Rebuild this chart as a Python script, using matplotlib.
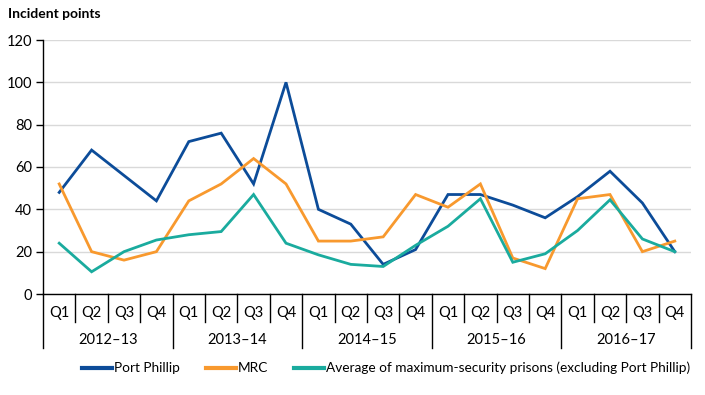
import matplotlib
matplotlib.use("Agg")
import matplotlib.pyplot as plt
import matplotlib.transforms as mtransforms

plt.rcParams['font.family'] = ['Lato', 'DejaVu Sans']

years = ["2012–13", "2013–14", "2014–15", "2015–16", "2016–17"]
quarters = ["Q1", "Q2", "Q3", "Q4"]

port_phillip = [48, 68, 56, 44, 72, 76, 52, 100, 40, 33, 14, 21, 47, 47, 42, 36, 46, 58, 43, 20]
mrc = [52, 20, 16, 20, 44, 52, 64, 52, 25, 25, 27, 47, 41, 52, 17, 12, 45, 47, 20, 25]
average = [24, 10.5, 20, 25.5, 28, 29.5, 47, 24, 18.5, 14, 13, 23, 32, 45, 15, 19, 30, 44.5, 26, 20]

series_names = ["Port Phillip", "MRC", "Average of maximum-security prisons (excluding Port Phillip)"]
colors = ["#0C4C99", "#F8992E", "#1AAB9E"]

W, H = 705, 395
fig = plt.figure(figsize=(W / 100, H / 100), dpi=100)
left, right, top, bottom = 43, 691, 40, 294
ax = fig.add_axes([left / W, 1 - bottom / H, (right - left) / W, (bottom - top) / H])

n = len(port_phillip)
x = list(range(n))
for vals, name, c in zip([port_phillip, mrc, average], series_names, colors):
    ax.plot(x, vals, color=c, lw=2.0, label=name, solid_joinstyle='miter')

ax.set_xlim(-0.5, n - 0.5)
ax.set_ylim(0, 120)
ax.set_yticks(range(0, 121, 20))
ax.yaxis.grid(True, color="#D9D9D9", lw=1.0)
ax.set_axisbelow(True)
for s in ["top", "right"]:
    ax.spines[s].set_visible(False)
ax.spines["left"].set_color("black")
ax.spines["bottom"].set_color("black")
ax.spines["left"].set_linewidth(1.0)
ax.spines["bottom"].set_linewidth(1.0)
ax.tick_params(axis="y", length=5, width=1.0, labelsize=10.5, pad=3, colors="black")
ax.set_xticks([])

ah = bottom - top
trans = mtransforms.blended_transform_factory(ax.transData, ax.transAxes)
for i in range(n):
    ax.text(i, -19 / ah, quarters[i % 4], transform=trans, ha="center", va="center", fontsize=10.5)
for b in range(n + 1):
    depth = 54 if b % 4 == 0 else 28
    ax.plot([b - 0.5, b - 0.5], [0, -depth / ah], transform=trans, color="black", lw=1.0, clip_on=False)
for k, yr in enumerate(years):
    ax.text(4 * k + 1.5, -46 / ah, yr, transform=trans, ha="center", va="center", fontsize=10.5)

fig.text(8 / W, 1 - 14 / H, "Incident points", fontsize=10, fontweight="bold", ha="left", va="center")

leg = fig.legend(loc="center", bbox_to_anchor=(386 / W, 1 - 368 / H), ncol=3, frameon=False,
                 fontsize=9.8, handlelength=2.2, handletextpad=0.15, columnspacing=1.9,
                 borderpad=0, borderaxespad=0)
for line in leg.get_lines():
    line.set_linewidth(3.0)

fig.savefig("out.png", dpi=100)
